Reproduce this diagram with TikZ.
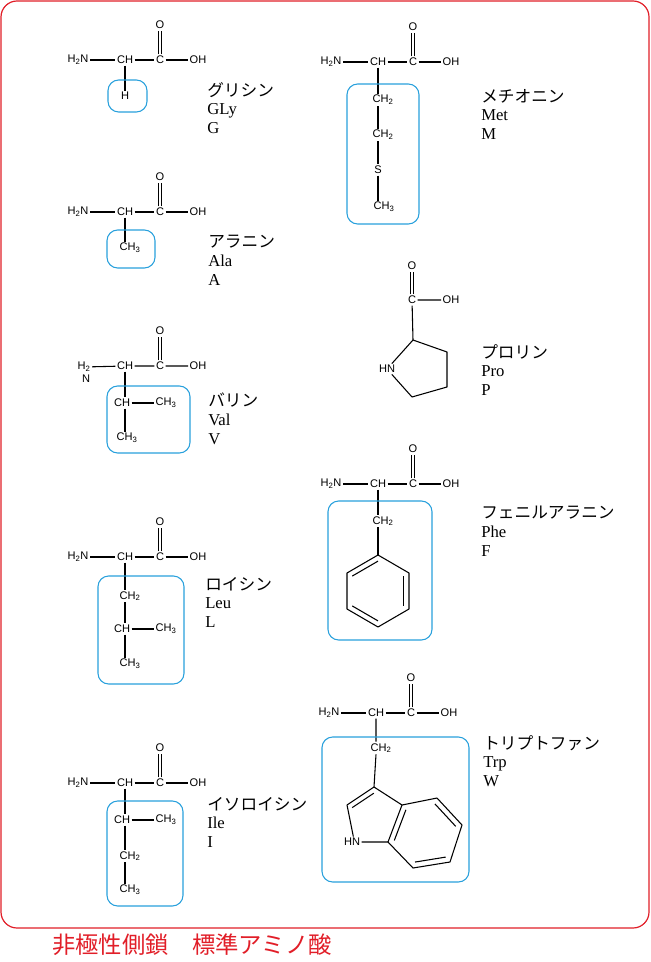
\documentclass[tikz,border=0pt]{standalone}
\usepackage{fontspec}
\setmainfont{Liberation Serif}
\setsansfont{Liberation Sans}
\newfontfamily\jp{Noto Sans CJK JP}
\usetikzlibrary{calc}
\definecolor{sbl}{RGB}{40,160,220}
\definecolor{fr}{RGB}{225,30,40}
\tikzset{x=0.75pt,y=-0.75pt,
 atom/.style={inner sep=1pt,font=\sffamily\fontsize{8.3}{9}\selectfont},
 bond/.style={line width=0.8pt,black},
 sbox/.style={draw=sbl,line width=0.8pt,rounded corners=8pt},
 lab/.style={anchor=north west,align=left,inner sep=0pt,font=\fontsize{12.5}{14}\selectfont}}
\newcommand\bbone[3]{%
 \node[atom] (#1N) at ({#2-47},#3) {H\textsubscript{2}N};
 \node[atom] (#1CH) at (#2,#3) {CH};
 \node[atom] (#1C) at ({#2+35},#3) {C};
 \node[atom] (#1OH) at ({#2+73},#3) {OH};
 \node[atom] (#1O) at ({#2+35},{#3-35}) {O};
 \draw[bond] (#1N)--(#1CH) (#1CH)--(#1C) (#1C)--(#1OH);
 \draw[bond] ([xshift=-1.3pt]#1C.north)--([xshift=-1.3pt]#1O.south);
 \draw[bond] ([xshift=1.3pt]#1C.north)--([xshift=1.3pt]#1O.south);}
\newcommand\tsub[1]{\textsubscript{#1}}
\begin{document}
\begin{tikzpicture}
\useasboundingbox (0,0) rectangle (650,962);
\draw[fr,line width=0.9pt,rounded corners=12pt] (1,1) rectangle (649,928);
\node[fr,anchor=west,inner sep=0pt,font=\jp\fontsize{17.5}{19}\selectfont] (title) at (52,945) {非極性側鎖　標準アミノ酸};
% Glycine
\bbone{g}{125}{60}
\node[atom] (gH) at (125,96) {H};
\draw[bond] (gCH)--(gH);
\draw[sbox] (108,80) rectangle (147,112);
\node[lab] (gl) at (207,82) {{\jp グリシン}\\GLy\\G};
% Alanine
\bbone{a}{125}{212}
\node[atom] (aR) at (130,248) {CH\tsub{3}};
\draw[bond] (aCH)--(aCH|-aR.north);
\draw[sbox] (107,230) rectangle (155,268);
\node[lab] (al) at (208,235) {{\jp アラニン}\\Ala\\A};
% Valine
\node[atom] (vN) at (84,367) {H\tsub{2}};
\node[atom] (vN2) at (86,379) {N};
\node[atom] (vCH) at (125,366) {CH};
\node[atom] (vC) at (160,366) {C};
\node[atom] (vOH) at (198,366) {OH};
\node[atom] (vO) at (160,331) {O};
\draw[bond] (vN)--(vCH) (vCH)--(vC) (vC)--(vOH);
\draw[bond] ([xshift=-1.3pt]vC.north)--([xshift=-1.3pt]vO.south);
\draw[bond] ([xshift=1.3pt]vC.north)--([xshift=1.3pt]vO.south);
\node[atom] (vB) at (122,403) {CH};
\node[atom] (vG1) at (166,403) {CH\tsub{3}};
\node[atom] (vG2) at (127,438) {CH\tsub{3}};
\draw[bond] (vCH)--(vCH|-vB.north) (vB)--(vG1) (vCH|-vB.south)--(vCH|-vG2.north);
\draw[sbox] (107,386) rectangle (190,453);
\node[lab] (vl) at (208,393) {{\jp バリン}\\Val\\V};
% Leucine
\bbone{l}{125}{557}
\node[atom] (lB) at (130,596) {CH\tsub{2}};
\node[atom] (lG) at (122,629) {CH};
\node[atom] (lD1) at (166,629) {CH\tsub{3}};
\node[atom] (lD2) at (130,664) {CH\tsub{3}};
\draw[bond] (lCH)--(lCH|-lB.north) (lCH|-lB.south)--(lCH|-lG.north) (lG)--(lD1) (lCH|-lG.south)--(lCH|-lD2.north);
\draw[sbox] (98,576) rectangle (184,684);
\node[lab] (ll) at (205,577) {{\jp ロイシン}\\Leu\\L};
% Isoleucine
\bbone{i}{125}{783}
\node[atom] (iB) at (122,820) {CH};
\node[atom] (iG1) at (166,820) {CH\tsub{3}};
\node[atom] (iG2) at (130,856) {CH\tsub{2}};
\node[atom] (iD) at (130,890) {CH\tsub{3}};
\draw[bond] (iCH)--(iCH|-iB.north) (iB)--(iG1) (iCH|-iB.south)--(iCH|-iG2.north) (iCH|-iG2.south)--(iCH|-iD.north);
\draw[sbox] (107,801) rectangle (183,906);
\node[lab] (il) at (207,797) {{\jp イソロイシン}\\Ile\\I};
% Methionine
\bbone{m}{378}{62}
\node[atom] (mB) at (383,100) {CH\tsub{2}};
\node[atom] (mG) at (383,135) {CH\tsub{2}};
\node[atom] (mS) at (378,170) {S};
\node[atom] (mE) at (384,207) {CH\tsub{3}};
\draw[bond] (mCH)--(mCH|-mB.north) (mCH|-mB.south)--(mCH|-mG.north) (mCH|-mG.south)--(mS) (mS)--(mCH|-mE.north);
\draw[sbox] (347,84) rectangle (419,224);
\node[lab] (ml) at (481,89) {{\jp メチオニン}\\Met\\M};
% Proline
\node[atom] (pC) at (412,300) {C};
\node[atom] (pO) at (412,266) {O};
\node[atom] (pOH) at (451,300) {OH};
\node[atom] (pN) at (387,369) {HN};
\coordinate (pA) at (413,340);
\coordinate (pB) at (447,352);
\coordinate (pG) at (447,387);
\coordinate (pD) at (412,397);
\draw[bond] (pC)--(pOH) (pC)--(pA);
\draw[bond] ([xshift=-1.3pt]pC.north)--([xshift=-1.3pt]pO.south);
\draw[bond] ([xshift=1.3pt]pC.north)--([xshift=1.3pt]pO.south);
\draw[bond,line join=round] (pN)--(pA)--(pB)--(pG)--(pD)--(pN);
\node[lab] (pl) at (481,344) {{\jp プロリン}\\Pro\\P};
% Phenylalanine
\bbone{f}{378}{484}
\node[atom] (fB) at (383,521) {CH\tsub{2}};
\coordinate (f1) at (378,555);
\coordinate (f2) at (409,573);
\coordinate (f3) at (409,609);
\coordinate (f4) at (378,627);
\coordinate (f5) at (347,609);
\coordinate (f6) at (347,573);
\coordinate (fo) at (378,591);
\draw[bond] (fCH)--(fCH|-fB.north) (fCH|-fB.south)--(f1);
\draw[bond,line join=round] (f1)--(f2)--(f3)--(f4)--(f5)--(f6)--cycle;
\draw[bond] ($(f1)!0.17!(fo)$)--($(f6)!0.17!(fo)$);
\draw[bond] ($(f2)!0.17!(fo)$)--($(f3)!0.17!(fo)$);
\draw[bond] ($(f4)!0.17!(fo)$)--($(f5)!0.17!(fo)$);
\draw[sbox] (328,501) rectangle (432,640);
\node[lab] (fl) at (481,506) {{\jp フェニルアラニン}\\Phe\\F};
% Tryptophan
\bbone{t}{376}{713}
\node[atom] (tB) at (381,748) {CH\tsub{2}};
\coordinate (t3) at (374,787);
\coordinate (t2) at (347,805);
\node[atom] (tN) at (352,842) {HN};
\coordinate (t7a) at (388,842);
\coordinate (t3a) at (402,805);
\coordinate (t4) at (437,798);
\coordinate (t5) at (462,825);
\coordinate (t6) at (450,862);
\coordinate (t7) at (413,868);
\coordinate (tpo) at (373,818);
\coordinate (tbo) at (425,833);
\draw[bond] (tCH)--(tCH|-tB.north) (tCH|-tB.south)--(t3);
\draw[bond,line join=round] ([xshift=1pt]tN.north)--(t2)--(t3)--(t3a)--(t7a)--(tN.east);
\draw[bond,line join=round] (t3a)--(t4)--(t5)--(t6)--(t7)--(t7a);
\draw[bond] ($(t2)!0.2!(tpo)$)--($(t3)!0.2!(tpo)$);
\draw[bond] ($(t3a)!0.17!(tbo)$)--($(t7a)!0.17!(tbo)$);
\draw[bond] ($(t4)!0.17!(tbo)$)--($(t5)!0.17!(tbo)$);
\draw[bond] ($(t6)!0.17!(tbo)$)--($(t7)!0.17!(tbo)$);
\draw[sbox] (322,737) rectangle (469,882);
\node[lab] (tl) at (483,735) {{\jp トリプトファン}\\Trp\\W};
\end{tikzpicture}
\end{document}
